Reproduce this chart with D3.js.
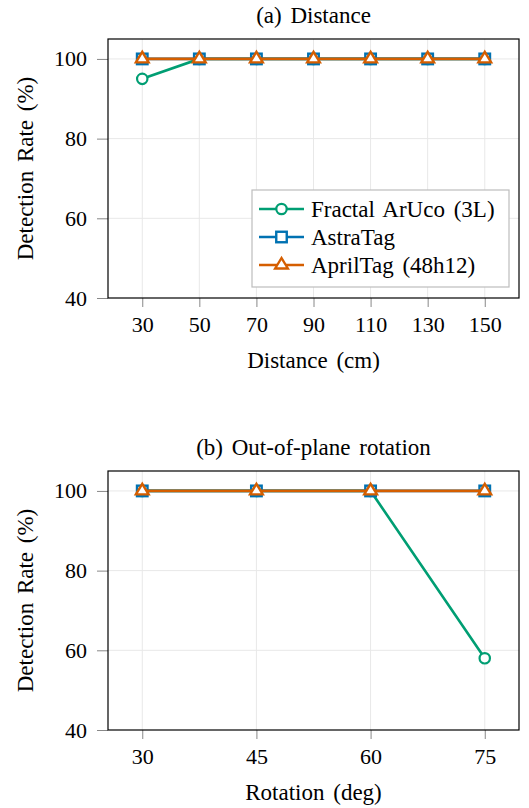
<!DOCTYPE html>
<html><head><meta charset="utf-8">
<script src="https://cdn.jsdelivr.net/npm/d3@7"></script>
<style>
html,body{margin:0;padding:0;background:#fff;}
svg text{font-family:"Liberation Serif","DejaVu Serif",serif;fill:#000;}
</style></head>
<body><svg id="c" width="529" height="808"></svg>
<script>
const seriesNames = ["Fractal ArUco (3L)", "AstraTag", "AprilTag (48h12)"];
const distances = [30, 50, 70, 90, 110, 130, 150];
const distFractal = [95, 100, 100, 100, 100, 100, 100];
const distAstra = [100, 100, 100, 100, 100, 100, 100];
const distApril = [100, 100, 100, 100, 100, 100, 100];
const rotations = [30, 45, 60, 75];
const rotFractal = [100, 100, 100, 58];
const rotAstra = [100, 100, 100, 100];
const rotApril = [100, 100, 100, 100];
const yTicks = [40, 60, 80, 100];

const colors = ["#009E73", "#0072B2", "#D55E00"];
const markers = ["circle", "square", "triangle"];
const svg = d3.select("#c");
const FS = 23;     // text size
const FT = 22;     // tick label size
const WS = 3;      // word spacing

function marker(g, type, color, x, y) {
  if (type === "circle") {
    g.append("circle").attr("cx", x).attr("cy", y).attr("r", 5.2)
      .attr("fill", "#fff").attr("stroke", color).attr("stroke-width", 2.2);
  } else if (type === "square") {
    const s = 10.5;
    g.append("rect").attr("x", x - s/2).attr("y", y - s/2).attr("width", s).attr("height", s)
      .attr("fill", "#fff").attr("stroke", color).attr("stroke-width", 2.4);
  } else {
    const r = 7;
    const pts = [[x, y - r], [x - r*0.866*1.05, y + r*0.5], [x + r*0.866*1.05, y + r*0.5]];
    g.append("path").attr("d", "M" + pts.map(p => p.join(",")).join("L") + "Z")
      .attr("fill", "#fff").attr("stroke", color).attr("stroke-width", 2.4).attr("stroke-linejoin", "miter");
  }
}

function label(g, x, y, txt) {
  return g.append("text").attr("x", x).attr("y", y).attr("font-size", FS)
    .attr("word-spacing", WS).text(txt);
}

function panel(opt) {
  const L = 108, R = 519, T = opt.top, B = opt.top + 259;
  const xs = opt.xs;
  const span = xs[xs.length - 1] - xs[0];
  const x = d3.scaleLinear().domain([xs[0] - 0.1 * span, xs[xs.length - 1] + 0.1 * span]).range([L, R]);
  const y = d3.scaleLinear().domain([40, 105]).range([B, T]);
  const g = svg.append("g");

  // grid
  g.selectAll(null).data(xs).enter().append("line")
    .attr("x1", d => x(d)).attr("x2", d => x(d)).attr("y1", T).attr("y2", B)
    .attr("stroke", "#e8e8e8").attr("stroke-width", 1);
  g.selectAll(null).data(yTicks.filter(d => d > 40)).enter().append("line")
    .attr("x1", L).attr("x2", R).attr("y1", d => y(d)).attr("y2", d => y(d))
    .attr("stroke", "#e8e8e8").attr("stroke-width", 1);

  // axes
  const xAxis = d3.axisBottom(x).tickValues(xs).tickSize(9).tickPadding(9).tickFormat(d3.format("d"));
  const ax = g.append("g").attr("transform", `translate(0,${B})`).call(xAxis);
  ax.select(".domain").remove();
  ax.selectAll(".tick line").attr("stroke", "#888");
  ax.selectAll(".tick text").attr("font-size", FT).attr("font-family", "Liberation Serif").attr("dy", "0.71em");
  const yAxis = d3.axisLeft(y).tickValues(yTicks).tickSize(11).tickPadding(10);
  const ay = g.append("g").attr("transform", `translate(${L},0)`).call(yAxis);
  ay.select(".domain").remove();
  ay.selectAll(".tick line").attr("stroke", "#888");
  ay.selectAll(".tick text").attr("font-size", FT).attr("font-family", "Liberation Serif");

  // frame
  g.append("rect").attr("x", L).attr("y", T).attr("width", R - L).attr("height", B - T)
    .attr("fill", "none").attr("stroke", "#000").attr("stroke-width", 1.2);

  // series
  opt.series.forEach((vals, i) => {
    const pts = xs.map((xv, j) => [x(xv), y(vals[j])]);
    g.append("path").attr("d", d3.line()(pts)).attr("fill", "none")
      .attr("stroke", colors[i]).attr("stroke-width", 2.6);
    pts.forEach(p => marker(g, markers[i], colors[i], p[0], p[1]));
  });

  label(g, (L + R) / 2, T - 16, opt.title).attr("text-anchor", "middle");
  label(g, (L + R) / 2, B + 70, opt.xlabel).attr("text-anchor", "middle");
  label(g, 0, 0, "Detection Rate (%)").attr("text-anchor", "middle")
    .attr("transform", `translate(33,${(T + B) / 2}) rotate(-90)`);

  if (opt.legend) {
    const lx = 252, ly = 190, lw = 257, lh = 97;
    const lg = g.append("g");
    lg.append("rect").attr("x", lx).attr("y", ly).attr("width", lw).attr("height", lh)
      .attr("fill", "#fff").attr("stroke", "#bdbdbd").attr("stroke-width", 1.2);
    seriesNames.forEach((name, i) => {
      const cy = 209 + i * 28;
      lg.append("line").attr("x1", 259).attr("x2", 304).attr("y1", cy).attr("y2", cy)
        .attr("stroke", colors[i]).attr("stroke-width", 2.6);
      marker(lg, markers[i], colors[i], 281.5, cy);
      label(lg, 311, cy, name).attr("dy", "0.35em");
    });
  }
}

panel({top: 39, xs: distances, series: [distFractal, distAstra, distApril],
  title: "(a) Distance", xlabel: "Distance (cm)", legend: true});
panel({top: 471, xs: rotations, series: [rotFractal, rotAstra, rotApril],
  title: "(b) Out-of-plane rotation", xlabel: "Rotation (deg)", legend: false});
</script></body></html>
